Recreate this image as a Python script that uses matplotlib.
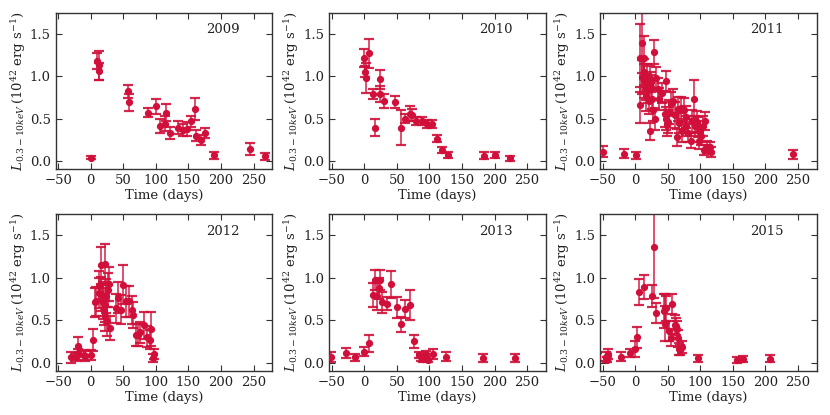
import matplotlib
matplotlib.use("Agg")
import matplotlib.pyplot as plt

plt.rcParams['font.family'] = ['DejaVu Serif']
plt.rcParams['mathtext.fontset'] = 'dejavuserif'
plt.rcParams['font.size'] = 9

years = ["2009", "2010", "2011", "2012", "2013", "2015"]

t2009 = [0, 10, 13, 12, 58, 59, 88, 100, 106, 114, 115, 121, 134, 142, 148, 154, 160, 161, 169, 176, 189, 244, 267]
L2009 = [0.04, 1.18, 1.13, 1.06, 0.82, 0.69, 0.57, 0.645, 0.41, 0.44, 0.57, 0.33, 0.395, 0.37, 0.38, 0.47, 0.61, 0.30, 0.245, 0.33, 0.065, 0.14, 0.055]
e2009 = [0.02, 0.09, 0.17, 0.10, 0.08, 0.10, 0.05, 0.09, 0.08, 0.09, 0.10, 0.07, 0.08, 0.07, 0.08, 0.065, 0.13, 0.065, 0.06, 0.06, 0.045, 0.07, 0.04]

t2010 = [0, 2, 3, 8, 14, 16, 24, 25, 31, 48, 56, 63, 71, 73, 80, 88, 96, 104, 111, 120, 128, 184, 201, 224]
L2010 = [1.215, 1.055, 0.98, 1.27, 0.79, 0.395, 0.965, 0.79, 0.705, 0.695, 0.395, 0.50, 0.56, 0.54, 0.47, 0.47, 0.435, 0.435, 0.265, 0.13, 0.07, 0.063, 0.07, 0.03]
e2010 = [0.11, 0.06, 0.18, 0.17, 0.06, 0.10, 0.11, 0.10, 0.08, 0.07, 0.21, 0.05, 0.09, 0.07, 0.05, 0.05, 0.05, 0.05, 0.04, 0.03, 0.04, 0.04, 0.04, 0.03]

t2011 = [-49, -17, 0.5, 7, 7, 10, 13, 10, 13, 14, 17, 16, 18, 19.5, 20.5, 22.5, 22, 23.5, 24.5, 25.5, 28.5, 28, 31, 32, 35, 36.5, 41,
         47.5, 46, 48, 50, 48.5, 52, 55, 57.5, 61, 63.5, 65, 67, 70.5, 72, 75, 77.5, 78.5, 81, 85.5, 87.5, 90, 92, 95, 96, 97.5, 99, 101.5,
         104.5, 106.5, 105, 110.5, 115, 117, 242]
L2011 = [0.11, 0.086, 0.066, 0.66, 1.215, 1.39, 1.22, 0.99, 1.05, 0.94, 0.875, 0.77, 0.99, 0.835, 0.71, 0.35, 0.97, 0.935, 0.875, 0.73, 1.285, 0.60, 0.50, 0.98, 0.855, 0.735, 0.805,
         0.94, 0.55, 0.50, 0.465, 0.42, 0.58, 0.67, 0.71, 0.54, 0.28, 0.61, 0.445, 0.63, 0.35, 0.60, 0.52, 0.41, 0.33, 0.24, 0.47, 0.73, 0.41, 0.465, 0.40, 0.24, 0.35, 0.29,
         0.41, 0.47, 0.13, 0.17, 0.17, 0.105, 0.078]
e2011 = [0.065, 0.05, 0.045, 0.21, 0.40, 0.35, 0.25, 0.20, 0.15, 0.20, 0.15, 0.18, 0.15, 0.15, 0.15, 0.10, 0.15, 0.12, 0.14, 0.12, 0.14, 0.13, 0.13, 0.13, 0.12, 0.13, 0.12,
         0.12, 0.15, 0.14, 0.14, 0.13, 0.14, 0.14, 0.14, 0.15, 0.10, 0.14, 0.12, 0.13, 0.12, 0.14, 0.13, 0.12, 0.11, 0.09, 0.13, 0.23, 0.12, 0.13, 0.12, 0.10, 0.12, 0.10,
         0.12, 0.11, 0.06, 0.07, 0.06, 0.06, 0.05]

t2012 = [-31, -22, -20, -19, -11, -9, 0, 4, 6, 8, 12, 13, 16, 16.5, 18.5, 21.5, 19.5, 20.5, 22.5, 21.5, 23.5, 25, 26.5, 28, 29, 39, 42.5, 46, 50, 53.5, 58.5, 63.5, 65.5,
         70, 72.5, 76, 82, 87, 90.5, 93, 95.5, 97.5]
L2012 = [0.06, 0.066, 0.11, 0.20, 0.09, 0.074, 0.086, 0.27, 0.71, 0.72, 0.90, 0.82, 1.145, 0.81, 0.71, 1.16, 0.75, 0.62, 0.68, 0.55, 0.78, 0.485, 0.85, 0.925, 0.41, 0.64, 0.765, 0.625, 0.92, 0.72, 0.72, 0.62, 0.56,
         0.33, 0.33, 0.355, 0.44, 0.305, 0.27, 0.395, 0.055, 0.098]
e2012 = [0.065, 0.05, 0.05, 0.10, 0.06, 0.06, 0.06, 0.13, 0.17, 0.17, 0.18, 0.18, 0.22, 0.2, 0.2, 0.24, 0.2, 0.18, 0.2, 0.18, 0.2, 0.17, 0.2, 0.2, 0.14, 0.17, 0.18, 0.17, 0.23, 0.18, 0.18, 0.16, 0.15,
         0.13, 0.13, 0.12, 0.16, 0.12, 0.11, 0.20, 0.05, 0.06]

t2013 = [-51, -28, -14, -0.5, 7, 13, 16.5, 19, 22, 25, 28, 35.5, 41.5, 50, 56.5, 63, 70, 77, 84, 86.5, 90, 92.5, 95.5, 97.5, 105.5, 125.5, 182, 232]
L2013 = [0.063, 0.113, 0.06, 0.13, 0.23, 0.80, 0.97, 0.78, 0.875, 0.97, 0.71, 0.695, 0.925, 0.65, 0.45, 0.63, 0.68, 0.25, 0.09, 0.063, 0.047, 0.055, 0.10, 0.027, 0.098, 0.07, 0.055, 0.055]
e2013 = [0.06, 0.06, 0.04, 0.05, 0.10, 0.14, 0.12, 0.16, 0.12, 0.12, 0.12, 0.08, 0.16, 0.12, 0.09, 0.11, 0.18, 0.075, 0.04, 0.04, 0.04, 0.04, 0.04, 0.02, 0.06, 0.05, 0.045, 0.05]

t2015 = [-58, -45, -43.5, -42, -22, -8.5, -1, 3.5, 5.5, 13, 26.5, 28.5, 32, 43.5, 46.5, 45.5, 48, 52, 56, 55.5, 60.5, 62.5, 63.5, 65.5, 67.5, 69.5, 72, 96, 156, 166, 207]
L2015 = [0.063, 0.07, 0.035, 0.10, 0.07, 0.113, 0.16, 0.297, 0.83, 0.89, 0.785, 1.36, 0.585, 0.61, 0.64, 0.46, 0.64, 0.37, 0.69, 0.29, 0.445, 0.425, 0.395, 0.285, 0.16, 0.15, 0.18, 0.05, 0.035, 0.047, 0.047]
e2015 = [0.05, 0.05, 0.03, 0.06, 0.05, 0.05, 0.09, 0.12, 0.15, 0.14, 0.13, 0.60, 0.12, 0.20, 0.17, 0.21, 0.15, 0.12, 0.12, 0.10, 0.11, 0.10, 0.10, 0.10, 0.07, 0.06, 0.07, 0.04, 0.035, 0.035, 0.04]

datasets = [(t2009, L2009, e2009), (t2010, L2010, e2010), (t2011, L2011, e2011),
            (t2012, L2012, e2012), (t2013, L2013, e2013), (t2015, L2015, e2015)]

xticks = [-50, 0, 50, 100, 150, 200, 250]
yticks = [0.0, 0.5, 1.0, 1.5]
red = '#d0103a'
pink = '#ec8ea2'

fig = plt.figure(figsize=(8.3, 4.15), dpi=100)
lefts = [0.0669, 0.3964, 0.7229]
bottoms = [0.5916, 0.106]
w, h = 0.2614, 0.378

for i, (year, (t, L, e)) in enumerate(zip(years, datasets)):
    ax = fig.add_axes([lefts[i % 3], bottoms[i // 3], w, h])
    _, caps, bars = ax.errorbar(t, L, yerr=e, fmt='none', ecolor=red,
                                elinewidth=1.2, capsize=3.5, capthick=1.6)
    for b in bars:
        b.set_alpha(0.85)
    for c in caps:
        c.set_color(pink)
        c.set_alpha(0.9)
    ax.plot(t, L, 'o', color=red, ms=4.2, mec=red, zorder=3)
    ax.set_xlim(-54, 279)
    ax.set_ylim(-0.1, 1.75)
    ax.set_xticks(xticks)
    ax.set_yticks(yticks)
    ax.set_yticklabels(["%.1f" % v for v in yticks])
    ax.tick_params(direction='in', top=True, right=True, length=4, width=0.8,
                   labelsize=9.5, color='#333333', labelcolor='#222222')
    for s in ax.spines.values():
        s.set_color('#333333')
        s.set_linewidth(1.0)
    ax.set_xlabel('Time (days)', fontsize=9.5, labelpad=1.5, color='#222222')
    ax.set_ylabel(r'$L_{0.3-10keV}\,(10^{42}$ erg s$^{-1}$)', fontsize=9.5, labelpad=1.5,
                  color='#222222')
    ax.text(0.77, 0.89, year, transform=ax.transAxes, ha='center', va='center',
            fontsize=9.5, color='#222222')

fig.savefig('out.png', dpi=100)
